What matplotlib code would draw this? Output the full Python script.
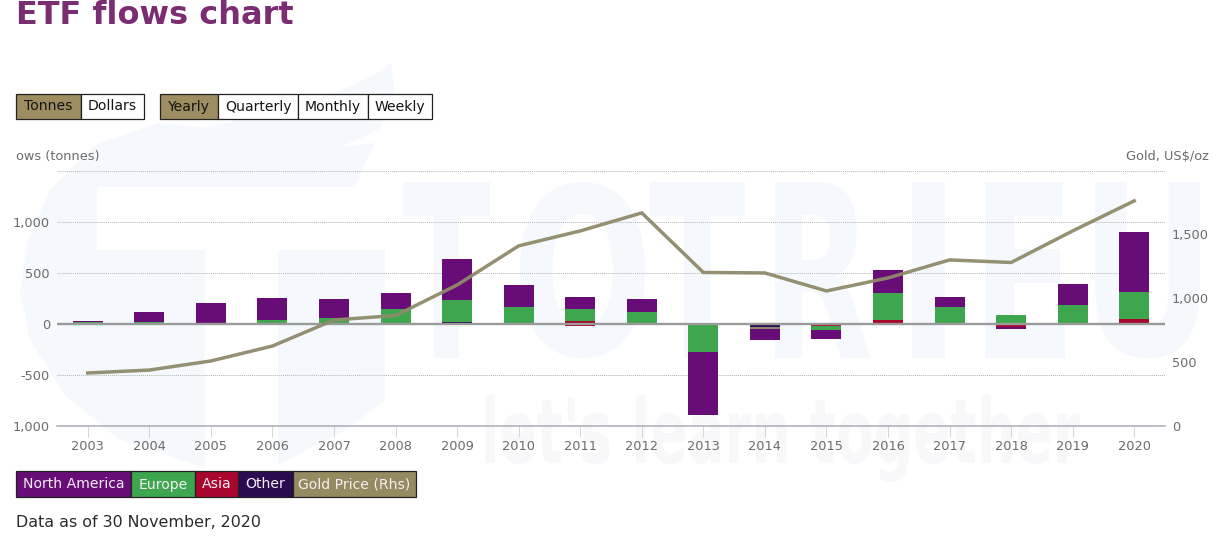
import matplotlib
matplotlib.use("Agg")
import numpy as np
import matplotlib.pyplot as plt
from matplotlib.patches import Rectangle, Polygon, PathPatch
from matplotlib.textpath import TextPath
from matplotlib.font_manager import FontProperties
from matplotlib.transforms import Affine2D

years = list(range(2003, 2021))
north_america = [7, 98, 203, 216, 189, 160, 402, 222, 118, 127, -615, -111, -88, 225, 98, -21, 206, 588]
europe = [22, 20, 3, 39, 56, 144, 215, 160, 121, 118, -262, -19, -43, 265, 167, 88, 186, 265]
asia = [0, 0, 0, 0, 0, 0, 0, -6, 26, 0, 0, 0, -3, 39, -8, -15, 0, 49]
other = [-10, 0, -10, -8, -10, 0, 20, 0, -20, -3, -12, -33, -16, -10, -8, -15, -5, -10]
gold = [415, 438, 509, 626, 830, 865, 1104, 1410, 1527, 1668, 1202, 1198, 1057, 1159, 1300, 1280, 1527, 1762]

left_ticks = [-1000, -500, 0, 500, 1000]
left_tick_labels = ["1,000", "-500", "0", "500", "1,000"]
right_ticks = [0, 500, 1000, 1500]
right_tick_labels = ["0", "500", "1,000", "1,500"]
unit_buttons = ["Tonnes", "Dollars"]
period_buttons = ["Yearly", "Quarterly", "Monthly", "Weekly"]
legend_labels = ["North America", "Europe", "Asia", "Other", "Gold Price (Rhs)"]

C_NA, C_EU, C_AS, C_OT = "#680c78", "#3fa650", "#a8062e", "#2a0a50"
C_GOLD = "#8f8a6a"
C_BTN = "#9d8d60"
C_TXT = "#6b6b6b"

W, H = 1216, 545
fig = plt.figure(figsize=(W / 100, H / 100), dpi=100, facecolor="white")
plt.rcParams["font.family"] = "DejaVu Sans"


def fx(x):
    return x / W


def fy(y):
    return 1 - y / H


def frect(x0, y0, x1, y1, **kw):
    fig.add_artist(Rectangle((fx(x0), fy(y1)), fx(x1) - fx(x0), fy(y0) - fy(y1),
                             transform=fig.transFigure, **kw))


def fit_text(s, x0, y0, x1, y1, color, weight="bold"):
    tp = TextPath((0, 0), s, size=100, prop=FontProperties(family="DejaVu Sans", weight=weight))
    bb = tp.get_extents()
    tr = (Affine2D().translate(-bb.x0, -bb.y0)
          .scale((x1 - x0) / bb.width, (y1 - y0) / bb.height)
          .translate(x0, H - y1).scale(1 / W, 1 / H))
    fig.add_artist(PathPatch(tr.transform_path(tp), fc=color, ec="none",
                             transform=fig.transFigure, zorder=-5))


# watermark (very pale, behind the chart)
WM = "#f5f9fd"
blob = Polygon([[fx(a), fy(b)] for a, b in
                [(20, 290), (28, 240), (50, 190), (95, 145), (158, 123), (205, 127), (260, 115),
                 (330, 95), (375, 75), (391, 63), (395, 100), (378, 130), (340, 147), (375, 143),
                 (356, 183), (360, 250), (385, 250), (385, 400), (345, 430), (278, 465),
                 (205, 468), (120, 440), (65, 395), (30, 340)]],
               closed=True, transform=fig.transFigure, fc=WM, ec="none", zorder=-6)
fig.add_artist(blob)
frect(97, 187, 360, 250, fc="white", ec="none", zorder=-5.5)
frect(205, 250, 278, 472, fc="white", ec="none", zorder=-5.5)
for ch, a, b in [("T", 403, 490), ("O", 520, 645), ("T", 650, 745), ("R", 775, 870),
                 ("I", 912, 945), ("E", 985, 1065), ("U", 1095, 1200)]:
    fit_text(ch, a, 182, b, 358, WM)
fit_text("let's learn together", 485, 395, 1080, 482, "#f8f8fa")

# chart
ax = fig.add_axes([fx(57), fy(426), fx(1165) - fx(57), fy(170.5) - fy(426)])
ax.patch.set_alpha(0)
x = np.arange(len(years))
bar_w = 30 / 61.55
pos = np.zeros(len(years))
neg = np.zeros(len(years))
containers = {}
for name, vals, col in [("other", other, C_OT), ("asia", asia, C_AS),
                        ("europe", europe, C_EU), ("na", north_america, C_NA)]:
    v = np.array(vals, float)
    base = np.where(v >= 0, pos, neg)
    containers[name] = ax.bar(x, v, bar_w, bottom=base, color=col, linewidth=0, zorder=2)
    pos += np.where(v >= 0, v, 0)
    neg += np.where(v < 0, v, 0)
# blended segments as they appear in the picture
containers["other"][8].set_facecolor(C_AS)
containers["europe"][11].set_facecolor("#8d8a72")

ax.set_xlim(-0.5, len(years) - 0.5)
ax.set_ylim(-1000, 1500)
ax.set_yticks(left_ticks + [1500])
ax.set_yticklabels(left_tick_labels + [""], color=C_TXT, fontsize=9.3)
ax.set_xticks(x)
ax.set_xticklabels(years, color=C_TXT, fontsize=9.3)
ax.tick_params(axis="y", length=0, pad=5)
ax.tick_params(axis="x", length=8, width=0.7, color="#d4d4d4", pad=2)
ax.yaxis.grid(True, linestyle=(0, (1, 1)), linewidth=0.7, color="#b4b4b4", zorder=1)
ax.set_axisbelow(True)
for s in ["left", "right", "top"]:
    ax.spines[s].set_visible(False)
ax.spines["bottom"].set_color("#a9adb5")
ax.spines["bottom"].set_linewidth(1.1)
ax.axhline(0, color="#9a9a9a", linewidth=1.7, zorder=3)

ax2 = ax.twinx()
ax2.patch.set_alpha(0)
ax2.set_ylim(0, 2000)
ax2.set_yticks(right_ticks)
ax2.set_yticklabels(right_tick_labels, color=C_TXT, fontsize=9.3)
ax2.tick_params(axis="y", length=0, pad=5)
for s in ax2.spines.values():
    s.set_visible(False)
ax2.plot(x, gold, color=C_GOLD, linewidth=2.5, alpha=0.95, solid_joinstyle="miter", zorder=4)

# texts
fig.text(fx(16), fy(16), "ETF flows chart", fontsize=23, fontweight="bold", color="#7a2d72", va="center")
fig.text(fx(16), fy(156.5), "ows (tonnes)", fontsize=9.3, color=C_TXT, va="center")
fig.text(fx(1209), fy(156.5), "Gold, US$/oz", fontsize=9.3, color=C_TXT, va="center", ha="right")
fig.text(fx(16), fy(522.5), "Data as of 30 November, 2020", fontsize=11.45, color="#2b2b2b", va="center")


def button(x0, x1, y0, y1, label, fc, tc):
    frect(x0, y0, x1, y1, fc=fc, ec="#222222", lw=0.9, zorder=6)
    fig.text(fx((x0 + x1) / 2), fy((y0 + y1) / 2 + 0.5), label, color=tc, fontsize=10.1,
             ha="center", va="center", zorder=7)


for lab, (a, b), fc in zip(unit_buttons, [(16, 81), (81, 143.5)], [C_BTN, "white"]):
    button(a, b, 93.5, 118.5, lab, fc, "#151515")
for lab, (a, b), fc in zip(period_buttons, [(160, 218), (218, 298), (298, 368), (368, 432)],
                           [C_BTN, "white", "white", "white"]):
    button(a, b, 93.5, 118.5, lab, fc, "#151515")
for lab, (a, b), fc in zip(legend_labels,
                           [(16, 131), (131, 195), (195, 238), (238, 293), (293, 416)],
                           [C_NA, C_EU, C_AS, C_OT, "#968a61"]):
    button(a, b, 471.5, 496.5, lab, fc, "#f4eef4")

fig.savefig("out.png", dpi=100, facecolor="white")
